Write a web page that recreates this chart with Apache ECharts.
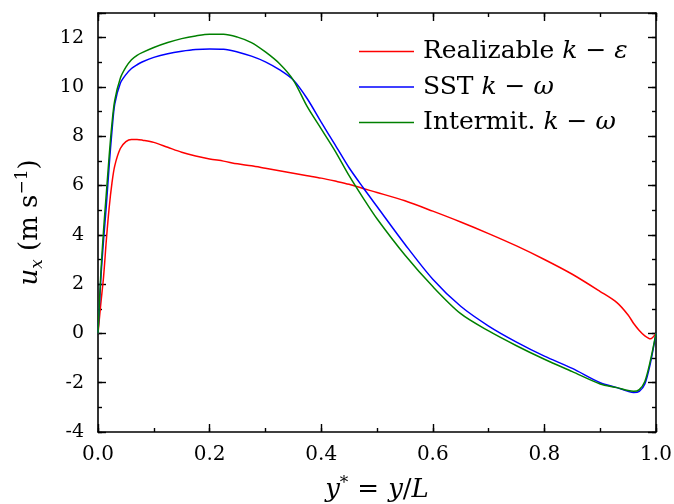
<!DOCTYPE html>
<html>
<head>
<meta charset="utf-8">
<script src="https://cdn.jsdelivr.net/npm/echarts@6/dist/echarts.min.js"></script>
<style>
html,body{margin:0;padding:0;background:#fff;}
#main{width:674px;height:504px;}
</style>
</head>
<body>
<div id="main"></div>
<script>
// y* positions (shared by all three models)
var yStar = [0, 0.005, 0.01, 0.015, 0.02, 0.025, 0.03, 0.04, 0.05, 0.06, 0.07, 0.08, 0.1, 0.125, 0.15, 0.175,
	0.2, 0.225, 0.25, 0.275, 0.3, 0.325, 0.35, 0.375, 0.4, 0.425, 0.45, 0.475, 0.5, 0.55, 0.6, 0.65,
	0.7, 0.75, 0.8, 0.85, 0.9, 0.93, 0.95, 0.96, 0.97, 0.98, 0.99, 1.0];
// u_x for each model
var uRealizable = [0, 1.2, 2.3, 3.8, 5.1, 6.1, 6.8, 7.5, 7.78, 7.87, 7.87, 7.84, 7.75, 7.55, 7.35, 7.2,
	7.08, 6.99, 6.88, 6.8, 6.7, 6.6, 6.5, 6.4, 6.3, 6.18, 6.05, 5.88, 5.72, 5.38, 4.96, 4.52,
	4.05, 3.55, 3.0, 2.4, 1.7, 1.25, 0.75, 0.4, 0.12, -0.1, -0.22, 0];
var uSST = [0, 2.2, 3.8, 5.2, 6.8, 8.2, 9.3, 10.15, 10.5, 10.75, 10.9, 11.02, 11.2, 11.35, 11.45, 11.52,
	11.54, 11.53, 11.42, 11.25, 11.02, 10.7, 10.28, 9.52, 8.57, 7.65, 6.72, 5.92, 5.15, 3.62, 2.2, 1.1,
	0.3, -0.35, -0.92, -1.42, -2.0, -2.2, -2.35, -2.4, -2.35, -2.05, -1.2, 0];
var uIntermit = [0, 2.4, 4.2, 5.7, 7.2, 8.5, 9.45, 10.35, 10.8, 11.1, 11.28, 11.4, 11.6, 11.8, 11.96, 12.07,
	12.14, 12.14, 12.02, 11.8, 11.42, 10.95, 10.28, 9.2, 8.3, 7.4, 6.4, 5.5, 4.65, 3.18, 1.9, 0.8,
	0.1, -0.5, -1.05, -1.55, -2.05, -2.2, -2.32, -2.35, -2.28, -1.95, -1.1, 0];

var serif = 'DejaVu Serif';

function pairs(xs, ys){
	var out = [];
	for (var i = 0; i < xs.length; i++) {
		out.push([xs[i], ys[i]]);
	}
	return out;
}

//坐标轴（主刻度 + 次刻度，四边都画）
function xAxisDef(pos, interval, len, main){
	return {
		type: 'value', position: pos, min: 0, max: 1, interval: interval,
		axisLine: {show: main, onZero: false, lineStyle: {color: '#000', width: 1.6}},
		axisTick: {show: true, inside: true, length: len, lineStyle: {color: '#000', width: 1.4}},
		axisLabel: {show: main && pos == 'bottom', margin: 13, color: '#000', fontFamily: serif, fontSize: 20,
			formatter: function(v){ return v.toFixed(1); }},
		splitLine: {show: false},
		name: (main && pos == 'bottom') ? '{i|y}{sup|*}{eq|=}{i|y}{r|/}{i|L}' : '',
		nameLocation: 'middle', nameGap: 43,
		nameTextStyle: {color: '#000', fontFamily: serif, fontSize: 26,
			rich: {
				i: {fontFamily: serif, fontStyle: 'italic', fontSize: 26, color: '#000', lineHeight: 30},
				r: {fontFamily: serif, fontSize: 26, color: '#000', lineHeight: 30},
				eq: {fontFamily: serif, fontSize: 26, color: '#000', lineHeight: 30, padding: [0, 9, 0, 9]},
				sup: {fontFamily: serif, fontSize: 17, verticalAlign: 'top', color: '#000', lineHeight: 30}
			}}
	};
}
function yAxisDef(pos, interval, len, main){
	return {
		type: 'value', position: pos, min: -4, max: 13, interval: interval,
		axisLine: {show: main, onZero: false, lineStyle: {color: '#000', width: 1.6}},
		axisTick: {show: true, inside: true, length: len, lineStyle: {color: '#000', width: 1.4}},
		axisLabel: {show: main && pos == 'left', margin: 14, color: '#000', fontFamily: serif, fontSize: 19,
			formatter: function(v){ return (v % 2 === 0) ? String(v) : ''; }},
		splitLine: {show: false},
		name: (main && pos == 'left') ? '{i|u}{sub|x} {r|(m s}{sup|−1}{r|)}' : '',
		nameLocation: 'middle', nameGap: 52, nameRotate: 90,
		nameTextStyle: {color: '#000', fontFamily: serif, fontSize: 26,
			rich: {
				i: {fontFamily: serif, fontStyle: 'italic', fontSize: 26, color: '#000', lineHeight: 32},
				r: {fontFamily: serif, fontSize: 26, color: '#000', lineHeight: 32},
				sub: {fontFamily: serif, fontStyle: 'italic', fontSize: 17, verticalAlign: 'bottom', color: '#000', lineHeight: 32},
				sup: {fontFamily: serif, fontSize: 17, verticalAlign: 'top', color: '#000', lineHeight: 32}
			}}
	};
}

function lineSeries(name, ys, color){
	return {
		name: name, type: 'line', xAxisIndex: 0, yAxisIndex: 0,
		data: pairs(yStar, ys), symbol: 'none', showSymbol: false, smooth: 0.3,
		lineStyle: {color: color, width: 1.5}, itemStyle: {color: color},
		z: 3
	};
}

var legendLabels = {
	'Realizable': '{r|Realizable} {i|k} {r|−} {i|ε}',
	'SST': '{r|SST} {i|k} {r|−} {i|ω}',
	'Intermit': '{r|Intermit.} {i|k} {r|−} {i|ω}'
};

var chart = echarts.init(document.getElementById('main'));
var option = {
	animation: false,
	backgroundColor: '#fff',
	grid: {left: 98, top: 13, right: 18, bottom: 72, containLabel: false, outerBoundsMode: 'none'},
	legend: {
		show: true,
		orient: 'vertical', left: 354, top: 34,
		icon: 'rect',
		itemWidth: 55, itemHeight: 1.6, itemGap: 10.5,
		data: ['Realizable', 'SST', 'Intermit'],
		formatter: function(name){ return legendLabels[name]; },
		textStyle: {
			fontFamily: serif, fontSize: 25, color: '#000', padding: [0, 0, 0, 4],
			rich: {
				r: {fontFamily: serif, fontSize: 25, color: '#000', lineHeight: 28},
				i: {fontFamily: serif, fontStyle: 'italic', fontSize: 25, color: '#000', lineHeight: 28}
			}
		}
	},
	xAxis: [
		xAxisDef('bottom', 0.2, 8, true),
		xAxisDef('bottom', 0.1, 4, false),
		xAxisDef('top', 0.2, 8, true),
		xAxisDef('top', 0.1, 4, false)
	],
	yAxis: [
		yAxisDef('left', 2, 8, true),
		yAxisDef('left', 1, 4, false),
		yAxisDef('right', 2, 8, true),
		yAxisDef('right', 1, 4, false)
	],
	series: [
		lineSeries('Realizable', uRealizable, '#ff0000'),
		lineSeries('SST', uSST, '#0000ff'),
		lineSeries('Intermit', uIntermit, '#008000')
	]
};
chart.setOption(option);
</script>
</body>
</html>
